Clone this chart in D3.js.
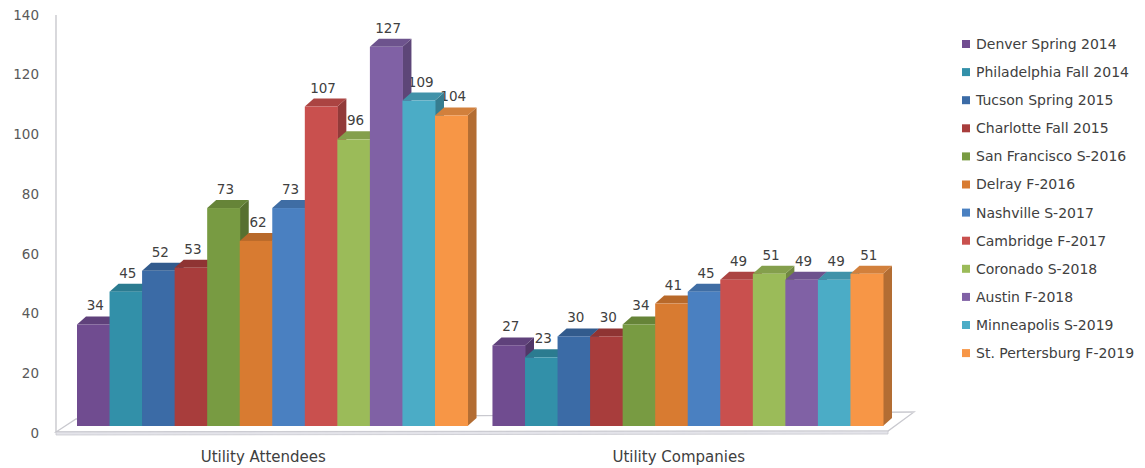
<!DOCTYPE html>
<html>
<head>
<meta charset="utf-8">
<script src="https://cdn.jsdelivr.net/npm/d3@7"></script>
<style>
  html, body { margin: 0; padding: 0; background: #fff; }
  svg { display: block; }
</style>
</head>
<body>
<svg id="chart" width="1145" height="468"></svg>
<script>
// ---------- DATA ----------
const categories = ["Utility Attendees", "Utility Companies"];
const seriesNames = [
  "Denver Spring 2014", "Philadelphia Fall 2014", "Tucson Spring 2015",
  "Charlotte Fall 2015", "San Francisco S-2016", "Delray F-2016",
  "Nashville S-2017", "Cambridge F-2017", "Coronado S-2018",
  "Austin F-2018", "Minneapolis S-2019", "St. Pertersburg F-2019"
];
const attendeeValues = [34, 45, 52, 53, 73, 62, 73, 107, 96, 127, 109, 104];
const companyValues  = [27, 23, 30, 30, 34, 41, 45, 49, 51, 49, 49, 51];
const seriesColors = [
  "#704c90", "#3290a9", "#3b6ba6", "#a83d3c", "#789b42", "#d87b31",
  "#4a80c1", "#c9504e", "#9bbb59", "#8061a5", "#4bacc6", "#f79646"
];
const yTicks = [0, 20, 40, 60, 80, 100, 120, 140];

// ---------- LAYOUT ----------
const svg = d3.select("#chart");
const depthX = 9, depthY = -8;   // 3D depth offset of the bars
const barLift = 7;               // front face bottom sits above axis zero

const y = d3.scaleLinear().domain([0, 140]).range([433, 15]);
const x0 = d3.scaleBand().domain(categories).range([77, 883]).paddingInner(0.06).paddingOuter(0);
const x1 = d3.scaleBand().domain(seriesNames).range([0, x0.bandwidth()]).padding(0);
const color = d3.scaleOrdinal().domain(seriesNames).range(seriesColors);

const font = "'DejaVu Sans', 'Liberation Sans', sans-serif";

// ---------- FLOOR ----------
const floorFL = [x0.range()[0] - 21, y(0) - 1];
const floorFR = [x0.range()[1] + 5, y(0) - 2];
const floorBR = [x0.range()[1] + 31, y(0) - 21];
const floorBL = [x0.range()[0] - 1, y(0) - 14];
svg.append("polygon")
  .attr("points", [floorFL, floorFR, floorBR, floorBL].map(p => p.join(",")).join(" "))
  .attr("fill", "#ffffff")
  .attr("stroke", "#c9c9cf")
  .attr("stroke-width", 1.3);
svg.append("polygon")
  .attr("points", [[floorFL[0], floorFL[1]], [floorFR[0], floorFR[1]], [floorFR[0], floorFR[1] + 3], [floorFL[0], floorFL[1] + 3]].map(p => p.join(",")).join(" "))
  .attr("fill", "#e4e4ea")
  .attr("stroke", "#c9c9cf")
  .attr("stroke-width", 0.8);

// vertical axis line
svg.append("line")
  .attr("x1", floorFL[0]).attr("x2", floorFL[0])
  .attr("y1", y(140)).attr("y2", y(0) - 1)
  .attr("stroke", "#c4c4ca").attr("stroke-width", 1.3);

// y tick labels
svg.append("g").selectAll("text").data(yTicks).join("text")
  .attr("x", 39)
  .attr("y", d => y(d))
  .attr("dy", "0.35em")
  .attr("text-anchor", "end")
  .attr("font-family", font)
  .attr("font-size", 13.5)
  .attr("fill", "#595959")
  .text(d => d);

// ---------- BARS ----------
const groups = categories.map((c, gi) => ({
  cat: c,
  values: gi === 0 ? attendeeValues : companyValues
}));

groups.forEach(g => {
  const gx = x0(g.cat);
  const items = seriesNames.map((s, i) => ({
    name: s, value: g.values[i],
    x: gx + x1(s), w: x1.bandwidth(),
    top: y(g.values[i]) - barLift, bottom: y(0) - barLift
  }));
  const gEl = svg.append("g");

  gEl.selectAll("text.lbl").data(items).join("text")
    .attr("class", "lbl")
    .attr("x", d => d.x + d.w / 2 + 2)
    .attr("y", d => d.top - 14)
    .attr("text-anchor", "middle")
    .attr("font-family", font)
    .attr("font-size", 13.5)
    .attr("fill", "#404040")
    .text(d => d.value);

  items.forEach(d => {
    const c = d3.color(color(d.name));
    const side = c.darker(0.9);
    const topC = c.darker(0.45);
    gEl.append("polygon")
      .attr("points", [
        [d.x + d.w, d.top], [d.x + d.w + depthX, d.top + depthY],
        [d.x + d.w + depthX, d.bottom + depthY], [d.x + d.w, d.bottom]
      ].map(p => p.join(",")).join(" "))
      .attr("fill", side);
    gEl.append("polygon")
      .attr("points", [
        [d.x, d.top], [d.x + d.w, d.top],
        [d.x + d.w + depthX, d.top + depthY], [d.x + depthX, d.top + depthY]
      ].map(p => p.join(",")).join(" "))
      .attr("fill", topC);
    gEl.append("rect")
      .attr("x", d.x).attr("y", d.top)
      .attr("width", d.w + 0.5).attr("height", d.bottom - d.top)
      .attr("fill", c);
  });
});

// category labels
svg.append("g").selectAll("text").data(categories).join("text")
  .attr("x", d => x0(d) + x0.bandwidth() / 2 - 9)
  .attr("y", 462)
  .attr("text-anchor", "middle")
  .attr("font-family", font)
  .attr("font-size", 15)
  .attr("fill", "#404040")
  .text(d => d);

// ---------- LEGEND ----------
const legend = svg.append("g").attr("transform", "translate(962,44)");
const legendStep = 28.1;
const li = legend.selectAll("g").data(seriesNames).join("g")
  .attr("transform", (d, i) => `translate(0,${i * legendStep})`);
li.append("rect")
  .attr("x", 0).attr("y", -4).attr("width", 8).attr("height", 8)
  .attr("fill", d => color(d));
li.append("text")
  .attr("x", 14).attr("y", 0).attr("dy", "0.35em")
  .attr("font-family", font)
  .attr("font-size", 14)
  .attr("fill", "#404040")
  .text(d => d);
</script>
</body>
</html>
